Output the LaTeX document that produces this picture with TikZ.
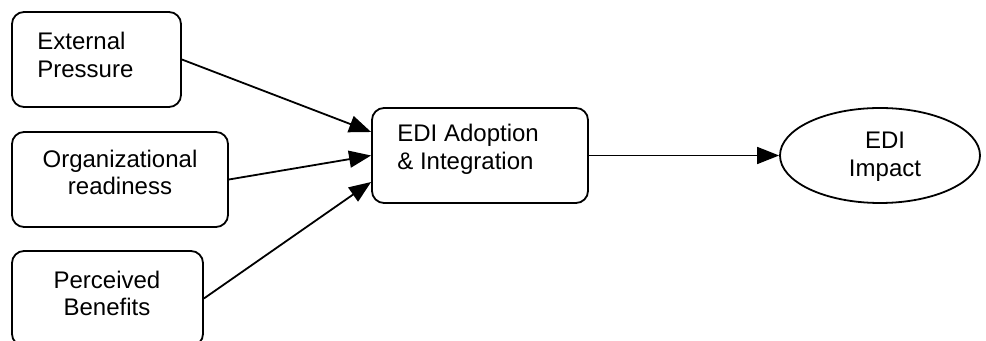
\documentclass[tikz,border=0pt]{standalone}
\usepackage{fontspec}
\setmainfont{Liberation Sans}
\usetikzlibrary{arrows.meta,shapes.geometric,calc}

\tikzset{
  box/.style={draw, line width=0.9pt, rounded corners=6pt, inner sep=0pt},
  oval/.style={draw, ellipse, line width=0.9pt, inner sep=0pt},
  lbl/.style={inner sep=0pt, font=\fontsize{12pt}{13.8pt}\selectfont},
  link/.style={line width=0.9pt, -{Triangle[length=11pt,width=8.5pt]}}
}

\begin{document}
\begin{tikzpicture}[x=0.5pt, y=-0.5pt]
  \useasboundingbox (0,0) rectangle (986,341);

  % input factors
  \node[box, minimum width=84.5pt, minimum height=47.5pt] (ext) at (96.5,59.5) {};
  \node[box, minimum width=108pt, minimum height=47.5pt] (org) at (120,179.5) {};
  \node[box, minimum width=95.5pt, minimum height=47.5pt] (ben) at (107.5,298.5) {};

  % adoption stage and outcome
  \node[box, minimum width=108pt, minimum height=47.5pt] (adopt) at (480,155.5) {};
  \node[oval, minimum width=100pt, minimum height=47.5pt] (impact) at (880,155.5) {};

  % labels
  \node[lbl, anchor=west, align=left] (extT) at (37,55) {External\\Pressure};
  \node[lbl, align=center] (orgT) at (120,172.5) {Organizational\\readiness};
  \node[lbl, align=center] (benT) at (107,293.5) {Perceived\\Benefits};
  \node[lbl, anchor=west, align=left] (adoptT) at (397,149) {EDI Adoption\\\& Integration};
  \node[lbl, align=center] (impactT) at (885,156.5) {EDI\\Impact};

  % arrow end points on the adoption box
  \coordinate (inTop) at ($(adopt.west)+(0,-23.5)$);
  \coordinate (inBot) at ($(adopt.west)+(0,26.5)$);

  % connectors
  \draw[link] (ext.east) -- (inTop);
  \draw[link] (org.east) -- (adopt.west);
  \draw[link] (ben.east) -- (inBot);
  \draw[link] (adopt.east) -- (impact.west);
\end{tikzpicture}
\end{document}
